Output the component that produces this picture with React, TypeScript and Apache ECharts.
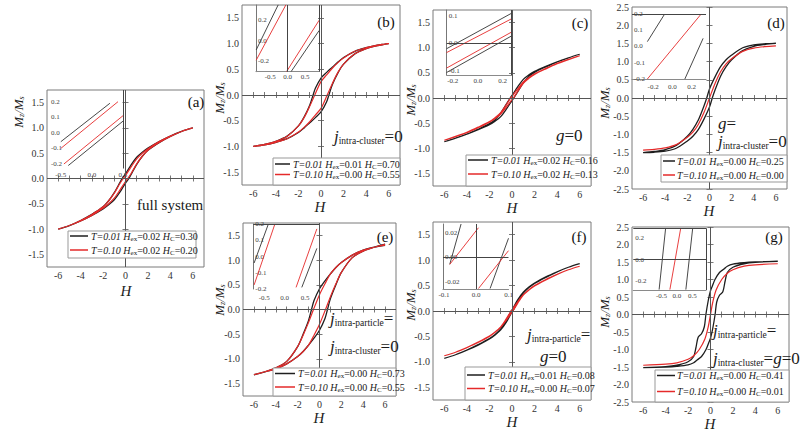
import React, { useEffect, useRef } from "react";
import * as echarts from "echarts";

type P = [number, number];

// ---------- data: descending-field branches (H from +6 to -6); ascending branch is its mirror ----------
const A_BLACK: P[] = [[6, 1.0], [5, 0.93], [4, 0.84], [3, 0.73], [2, 0.6], [1.5, 0.52], [1, 0.42], [0.5, 0.27], [0, 0.09], [-0.3, 0], [-0.5, -0.08], [-1, -0.28], [-1.5, -0.44], [-2, -0.56], [-3, -0.71], [-4, -0.83], [-5, -0.93], [-6, -1.0]];
const A_RED: P[] = [[6, 1.0], [5, 0.93], [4, 0.84], [3, 0.73], [2, 0.59], [1.5, 0.5], [1, 0.39], [0.5, 0.23], [0, 0.06], [-0.2, 0], [-0.5, -0.1], [-1, -0.29], [-1.5, -0.44], [-2, -0.56], [-3, -0.71], [-4, -0.83], [-5, -0.93], [-6, -1.0]];
const B_BLACK: P[] = [[6, 1.0], [5, 0.97], [4, 0.92], [3, 0.85], [2, 0.73], [1.5, 0.64], [1, 0.54], [0.5, 0.44], [0, 0.33], [-0.5, 0.13], [-0.7, 0], [-1, -0.2], [-1.5, -0.43], [-2, -0.6], [-3, -0.8], [-4, -0.9], [-5, -0.96], [-6, -1.0]];
const B_RED: P[] = [[6, 1.0], [5, 0.97], [4, 0.92], [3, 0.85], [2, 0.72], [1.5, 0.63], [1, 0.52], [0.5, 0.39], [0, 0.26], [-0.55, 0], [-1, -0.22], [-1.5, -0.44], [-2, -0.6], [-3, -0.8], [-4, -0.9], [-5, -0.96], [-6, -1.0]];
const C_BLACK: P[] = [[6, 0.87], [5, 0.8], [4, 0.72], [3, 0.63], [2, 0.53], [1.5, 0.46], [1, 0.37], [0.5, 0.22], [0, 0.05], [-0.16, 0], [-0.5, -0.12], [-1, -0.3], [-1.5, -0.43], [-2, -0.51], [-3, -0.62], [-4, -0.72], [-5, -0.8], [-6, -0.87]];
const C_RED: P[] = [[6, 0.84], [5, 0.77], [4, 0.69], [3, 0.59], [2, 0.48], [1.5, 0.41], [1, 0.32], [0.5, 0.18], [0, 0.03], [-0.13, 0], [-0.5, -0.13], [-1, -0.29], [-1.5, -0.39], [-2, -0.47], [-3, -0.58], [-4, -0.68], [-5, -0.76], [-6, -0.84]];
const D_BLACK: P[] = [[6, 1.5], [5, 1.49], [4, 1.46], [3, 1.38], [2, 1.18], [1.5, 1.05], [1, 0.86], [0.5, 0.58], [0, 0.25], [-0.25, 0], [-0.5, -0.22], [-1, -0.6], [-1.5, -0.86], [-2, -1.05], [-3, -1.3], [-4, -1.42], [-5, -1.47], [-6, -1.5]];
const D_RED: P[] = [[6, 1.43], [5, 1.41], [4, 1.37], [3, 1.28], [2, 1.08], [1.5, 0.94], [1, 0.72], [0.5, 0.4], [0, 0], [-0.5, -0.4], [-1, -0.72], [-1.5, -0.94], [-2, -1.08], [-3, -1.28], [-4, -1.37], [-5, -1.41], [-6, -1.43]];
const E_BLACK: P[] = [[6, 1.3], [5, 1.26], [4, 1.2], [3, 1.1], [2, 0.95], [1.5, 0.85], [1, 0.72], [0.5, 0.58], [0, 0.42], [-0.5, 0.18], [-0.73, 0], [-1, -0.22], [-1.5, -0.5], [-2, -0.75], [-3, -1.05], [-4, -1.18], [-5, -1.26], [-6, -1.32]];
const E_RED: P[] = [[6, 1.3], [5, 1.26], [4, 1.2], [3, 1.1], [2, 0.95], [1.5, 0.85], [1, 0.72], [0.5, 0.52], [0, 0.3], [-0.55, 0], [-1, -0.26], [-1.5, -0.52], [-2, -0.75], [-3, -1.05], [-4, -1.18], [-5, -1.26], [-6, -1.32]];
const F_BLACK: P[] = [[6, 0.93], [5, 0.86], [4, 0.77], [3, 0.67], [2, 0.55], [1.5, 0.47], [1, 0.37], [0.5, 0.22], [0, 0.02], [-0.08, 0], [-0.5, -0.18], [-1, -0.35], [-1.5, -0.46], [-2, -0.54], [-3, -0.66], [-4, -0.77], [-5, -0.86], [-6, -0.93]];
const F_RED: P[] = [[6, 0.88], [5, 0.81], [4, 0.72], [3, 0.62], [2, 0.5], [1.5, 0.42], [1, 0.32], [0.5, 0.18], [0, 0.02], [-0.07, 0], [-0.5, -0.15], [-1, -0.31], [-1.5, -0.41], [-2, -0.49], [-3, -0.61], [-4, -0.72], [-5, -0.81], [-6, -0.88]];
const G_BLACK: P[] = [[6, 1.52], [4, 1.5], [3, 1.48], [2, 1.44], [1.5, 1.38], [1.2, 1.3], [0.8, 1.2], [0.4, 1.0], [0.15, 0.8], [0, 0.68], [-0.2, 0.4], [-0.41, 0], [-0.55, -0.35], [-0.8, -0.55], [-1.1, -0.65], [-1.3, -0.95], [-1.5, -1.2], [-2, -1.35], [-3, -1.45], [-4, -1.49], [-6, -1.52]];
const G_RED: P[] = [[6, 1.45], [4, 1.42], [3, 1.38], [2, 1.28], [1.5, 1.18], [1, 1.0], [0.5, 0.7], [0.2, 0.35], [0, 0], [-0.2, -0.35], [-0.5, -0.7], [-1, -1.0], [-1.5, -1.18], [-2, -1.28], [-3, -1.38], [-4, -1.42], [-6, -1.45]];

// ---------- inset segments ----------
const A_IN_BLACK: P[][] = [[[-0.5, -0.057], [0.29, 0.19]], [[-0.38, -0.21], [0.5, 0.075]]];
const A_IN_RED: P[][] = [[[-0.5, -0.1], [0.42, 0.2]], [[-0.45, -0.2], [0.5, 0.11]]];
const B_IN_BLACK: P[][] = [[[-0.9, -0.09], [-0.27, 0.35]], [[0.1, -0.3], [0.9, 0.1]]];
const B_IN_RED: P[][] = [[[-0.9, -0.19], [-0.05, 0.35]], [[-0.03, -0.3], [0.9, 0.2]]];
const C_IN_BLACK: P[][] = [[[-0.25, -0.02], [0.27, 0.108]], [[-0.25, -0.106], [0.27, 0.026]]];
const C_IN_RED: P[][] = [[[-0.25, -0.034], [0.27, 0.088]], [[-0.25, -0.09], [0.27, 0.04]]];
const D_IN_BLACK: P[][] = [[[-0.26, 0.03], [-0.08, 0.2]], [[0.13, -0.2], [0.32, 0.05]]];
const D_IN_RED: P[][] = [[[-0.26, -0.2], [0.3, 0.2]]];
const E_IN_BLACK: P[][] = [[[-0.75, -0.04], [-0.4, 0.2]], [[0.42, -0.19], [0.79, 0.05]]];
const E_IN_RED: P[][] = [[[-0.75, -0.175], [-0.24, 0.2]], [[0.28, -0.19], [0.79, 0.17]]];
const F_IN_BLACK: P[][] = [[[-0.082, -0.0055], [-0.047, 0.027]], [[0.043, -0.025], [0.1, 0.0155]]];
const F_IN_RED: P[][] = [[[-0.082, -0.0055], [0.007, 0.024]], [[0.007, -0.025], [0.1, 0.0055]]];
const G_IN_BLACK: P[][] = [[[-0.58, -0.28], [-0.37, 0.29]], [[0.29, -0.28], [0.51, 0.29]]];
const G_IN_RED: P[][] = [[[-0.23, -0.28], [0.12, 0.29]]];

// ---------- ticks ----------
const X_TICKS = [-6, -4, -2, 0, 2, 4, 6];
const X_MINOR = [-6, -5, -4, -3, -2, -1, 0, 1, 2, 3, 4, 5, 6];
const Y_TICKS_S = [-1.5, -1, -0.5, 0, 0.5, 1, 1.5];
const Y_TICKS_L = [-2.5, -2, -1.5, -1, -0.5, 0, 0.5, 1, 1.5, 2, 2.5];
const IN_Y_A = [-0.2, -0.1, 0, 0.1, 0.2];
const IN_Y_B = [-0.2, 0, 0.2];
const IN_Y_C = [-0.1, 0, 0.1];
const IN_Y_F = [-0.02, 0, 0.02];
const IN_X_HALF = [-0.5, 0, 0.5];
const IN_X_POINT2 = [-0.2, 0, 0.2];
const IN_X_POINT1 = [-0.1, 0, 0.1];

// ---------- legend values: [Hex, Hc] per temperature ----------
const T_VALUES = ["0.01", "0.10"];
const A_LEG = [["0.02", "0.30"], ["0.02", "0.20"]];
const B_LEG = [["0.01", "0.70"], ["0.00", "0.55"]];
const C_LEG = [["0.02", "0.16"], ["0.02", "0.13"]];
const D_LEG = [["0.00", "0.25"], ["0.00", "0.00"]];
const E_LEG = [["0.00", "0.73"], ["0.00", "0.55"]];
const F_LEG = [["0.01", "0.08"], ["0.00", "0.07"]];
const G_LEG = [["0.00", "0.41"], ["0.00", "0.01"]];
const PANEL_LABELS = ["(a)", "(b)", "(c)", "(d)", "(e)", "(f)", "(g)"];

const SERIF = '"Liberation Serif", "Times New Roman", "DejaVu Serif", serif';
const BLACK = "#1e1e1e";
const RED = "#e52a2a";

const loop = (up: P[]): P[] => {
  const lower = up.map(([h, m]) => [-h, -m] as P);
  return [...up, ...lower.slice(1)];
};

interface Panel {
  main: number[];
  yr: number;
  yTicks: number[];
  black: P[];
  red: P[];
  inset: number[];
  inBlack: P[][];
  inRed: P[][];
  inY: number[];
  inX: number[];
  inYDigits: number;
  inLeft: boolean;
  inBottom: boolean;
  inVx: number[];
  inHy: number[];
  inXMargin: number;
  leg: string[][];
  legBox: number[];
  legRows: number[];
  legLine: number[];
  legText: number;
  label: number[];
  yName: number[];
  xName: number[];
}

const PANELS: Panel[] = [
  {
    main: [47, 90, 204, 267], yr: 1.75, yTicks: Y_TICKS_S, black: A_BLACK, red: A_RED,
    inset: [49, 90, 123.3, 168.5, -0.69, 0.505, -0.229, 0.275], inBlack: A_IN_BLACK, inRed: A_IN_RED,
    inY: IN_Y_A, inX: IN_X_HALF, inYDigits: 1, inLeft: false, inBottom: false, inVx: [0.5], inHy: [], inXMargin: 3,
    leg: A_LEG, legBox: [68, 231, 196, 258], legRows: [236, 250], legLine: [70, 88], legText: 91,
    label: [196, 102], yName: [18, 112], xName: [126, 291],
  },
  {
    main: [242, 5, 400, 185], yr: 1.75, yTicks: Y_TICKS_S, black: B_BLACK, red: B_RED,
    inset: [256, 5, 319.3, 71.7, -0.905, 0.903, -0.302, 0.348], inBlack: B_IN_BLACK, inRed: B_IN_RED,
    inY: IN_Y_B, inX: IN_X_HALF, inYDigits: 1, inLeft: true, inBottom: true, inVx: [0, 0.9], inHy: [], inXMargin: 2,
    leg: B_LEG, legBox: [273, 158, 400, 185], legRows: [164, 174.5], legLine: [275, 290], legText: 293,
    label: [386, 22], yName: [219, 98], xName: [320, 207],
  },
  {
    main: [433, 10, 591, 186], yr: 1.75, yTicks: Y_TICKS_S, black: C_BLACK, red: C_RED,
    inset: [446.7, 10, 512.3, 75, -0.249, 0.277, -0.115, 0.12], inBlack: C_IN_BLACK, inRed: C_IN_RED,
    inY: IN_Y_C, inX: IN_X_POINT2, inYDigits: 1, inLeft: true, inBottom: true, inVx: [0.27], inHy: [0], inXMargin: 2,
    leg: C_LEG, legBox: [466, 155, 591, 186], legRows: [160, 174], legLine: [468, 488], legText: 491,
    label: [580, 23], yName: [410, 100], xName: [512, 208],
  },
  {
    main: [632, 7, 787, 189], yr: 2.5, yTicks: Y_TICKS_L, black: D_BLACK, red: D_RED,
    inset: [632, 7, 706, 79, -0.42, 0.35, -0.2, 0.243], inBlack: D_IN_BLACK, inRed: D_IN_RED,
    inY: IN_Y_A, inX: IN_X_POINT2, inYDigits: 1, inLeft: false, inBottom: true, inVx: [], inHy: [0.2], inXMargin: 4,
    leg: D_LEG, legBox: [661, 155, 787, 182], legRows: [161, 175], legLine: [663, 675], legText: 677,
    label: [776, 23], yName: [604, 103], xName: [709, 211],
  },
  {
    main: [243, 223, 396, 396], yr: 1.75, yTicks: Y_TICKS_S, black: E_BLACK, red: E_RED,
    inset: [253.3, 224, 319.3, 289, -0.77, 0.85, -0.2, 0.2], inBlack: E_IN_BLACK, inRed: E_IN_RED,
    inY: IN_Y_A, inX: IN_X_HALF, inYDigits: 1, inLeft: true, inBottom: false, inVx: [], inHy: [0.2], inXMargin: 5,
    leg: E_LEG, legBox: [273, 368, 396, 396], legRows: [373.5, 387], legLine: [275, 295], legText: 298,
    label: [385, 237], yName: [219, 300], xName: [319, 418],
  },
  {
    main: [433, 222, 591, 400], yr: 1.75, yTicks: Y_TICKS_S, black: F_BLACK, red: F_RED,
    inset: [443, 224, 508.5, 289, -0.103, 0.1, -0.0254, 0.027], inBlack: F_IN_BLACK, inRed: F_IN_RED,
    inY: IN_Y_F, inX: IN_X_POINT1, inYDigits: 2, inLeft: true, inBottom: true, inVx: [0], inHy: [0], inXMargin: 2,
    leg: F_LEG, legBox: [465, 367, 591, 400], legRows: [375, 388.5], legLine: [467, 485], legText: 488,
    label: [579, 237], yName: [410, 305], xName: [512, 422],
  },
  {
    main: [632, 227, 789, 402], yr: 2.5, yTicks: Y_TICKS_L, black: G_BLACK, red: G_RED,
    inset: [633.3, 228.3, 706, 290, -1.42, 0.945, -0.284, 0.294], inBlack: G_IN_BLACK, inRed: G_IN_RED,
    inY: IN_Y_B, inX: IN_X_HALF, inYDigits: 1, inLeft: false, inBottom: true, inVx: [0.94], inHy: [0.29, 0], inXMargin: 2,
    leg: G_LEG, legBox: [655, 370, 789, 402], legRows: [375.5, 391.5], legLine: [657, 675], legText: 677,
    label: [774, 237], yName: [604, 312], xName: [710, 424],
  },
];

const ANNOTATIONS: { x: number; y: number; text: string }[] = [
  { x: 137, y: 205, text: "{r|full system}" },
  { x: 334, y: 136, text: "{j|j}{sub|intra-cluster}{n|=0}" },
  { x: 556, y: 135, text: "{j|g}{n|=0}" },
  { x: 718, y: 123, text: "{j|g}{n|=}" },
  { x: 718, y: 141, text: "{j|j}{sub|intra-cluster}{n|=0}" },
  { x: 330, y: 318, text: "{j|j}{sub|intra-particle}{n|=}" },
  { x: 330, y: 346, text: "{j|j}{sub|intra-cluster}{n|=0}" },
  { x: 527, y: 334, text: "{j|j}{sub|intra-particle}{n|=}" },
  { x: 540, y: 356, text: "{j|g}{n|=0}" },
  { x: 713, y: 330, text: "{j|j}{sub|intra-particle}{n|=}" },
  { x: 713, y: 358, text: "{j|j}{sub|intra-cluster}{n|=}{j|g}{n|=0}" },
];

const richStyle = (size: number, italic: boolean, pad = 0) => ({
  fontFamily: SERIF,
  fontSize: size,
  fontStyle: italic ? "italic" : "normal",
  fill: "#1a1a1a",
  color: "#1a1a1a",
  padding: pad ? [pad, 0, 0, 0] : 0,
});

const ANN_RICH = {
  j: richStyle(17, true),
  n: richStyle(17, false),
  r: richStyle(15, false),
  sub: richStyle(9.5, false, 9),
};
const LEG_RICH = {
  it: richStyle(10, true),
  n: richStyle(10, false),
  sub: richStyle(7, false, 5),
};
const NAME_RICH = {
  i: richStyle(13, true),
  s: richStyle(8, true, 6),
};

function buildOption() {
  const grid: any[] = [];
  const xAxis: any[] = [];
  const yAxis: any[] = [];
  const series: any[] = [];
  const graphic: any[] = [];
  const tickColor = "#777";

  PANELS.forEach((p, i) => {
    const [l, t, r, b] = p.main;
    const gi = grid.length;
    grid.push({ left: l, top: t, width: r - l, height: b - t, show: true, borderColor: "#7a7a7a", borderWidth: 1, backgroundColor: "transparent", containLabel: false, outerBoundsMode: "none" });
    const xi = xAxis.length;
    xAxis.push({
      type: "value", gridIndex: gi, min: -7, max: 7, position: "bottom",
      axisLine: { show: false },
      axisTick: { show: true, inside: true, length: 3, customValues: X_MINOR, lineStyle: { color: tickColor } },
      axisLabel: { show: true, customValues: X_TICKS, formatter: (v: number) => String(v), fontFamily: SERIF, fontSize: 10, color: "#333", margin: 3 },
      splitLine: { show: false },
    });
    xAxis.push({
      type: "value", gridIndex: gi, min: -7, max: 7, position: "top",
      axisLine: { show: false },
      axisTick: { show: true, inside: true, length: 3, customValues: X_MINOR, lineStyle: { color: tickColor } },
      axisLabel: { show: false }, splitLine: { show: false },
    });
    const yi = yAxis.length;
    yAxis.push({
      type: "value", gridIndex: gi, min: -p.yr, max: p.yr, position: "left",
      axisLine: { show: false },
      axisTick: { show: true, inside: true, length: 3, customValues: p.yTicks, lineStyle: { color: tickColor } },
      axisLabel: { show: true, customValues: p.yTicks, formatter: (v: number) => v.toFixed(1), fontFamily: SERIF, fontSize: 10, color: "#333", margin: 3 },
      splitLine: { show: false },
    });
    yAxis.push({
      type: "value", gridIndex: gi, min: -p.yr, max: p.yr, position: "right",
      axisLine: { show: false },
      axisTick: { show: true, inside: true, length: 3, customValues: p.yTicks, lineStyle: { color: tickColor } },
      axisLabel: { show: false }, splitLine: { show: false },
    });
    series.push({
      type: "line", name: `p${i}black`, xAxisIndex: xi, yAxisIndex: yi, data: loop(p.black),
      showSymbol: false, symbol: "none", smooth: 0.3, silent: true,
      lineStyle: { color: BLACK, width: 1.3 },
      markLine: {
        silent: true, symbol: ["none", "none"], label: { show: false },
        lineStyle: { color: "#555", width: 1, type: "solid" },
        data: [{ xAxis: 0 }, { yAxis: 0 }],
      },
    });
    series.push({
      type: "line", name: `p${i}red`, xAxisIndex: xi, yAxisIndex: yi, data: loop(p.red),
      showSymbol: false, symbol: "none", smooth: 0.3, silent: true,
      lineStyle: { color: RED, width: 1.2 },
    });

    // inset
    const [il, it, ir, ib, xmin, xmax, ymin, ymax] = p.inset;
    const ig = grid.length;
    grid.push({ left: il, top: it, width: ir - il, height: ib - it, show: false, containLabel: false, outerBoundsMode: "none" });
    const ixi = xAxis.length;
    xAxis.push({
      type: "value", gridIndex: ig, min: xmin, max: xmax, position: "bottom",
      axisLine: { show: p.inBottom, onZero: false, lineStyle: { color: "#8a8a8a", width: 1.2 } },
      axisTick: { show: false },
      axisLabel: { show: true, customValues: p.inX, formatter: (v: number) => v.toFixed(1), fontFamily: SERIF, fontSize: 7, color: "#444", margin: p.inXMargin },
      splitLine: { show: false },
    });
    const iyi = yAxis.length;
    yAxis.push({
      type: "value", gridIndex: ig, min: ymin, max: ymax, position: "left",
      axisLine: { show: p.inLeft, onZero: false, lineStyle: { color: "#777", width: 1 } },
      axisTick: { show: false },
      axisLabel: { show: true, inside: true, customValues: p.inY, formatter: (v: number) => v.toFixed(p.inYDigits), fontFamily: SERIF, fontSize: 7, color: "#444", margin: 2 },
      splitLine: { show: false },
    });
    const frameLines = [...p.inVx.map((v) => ({ xAxis: v })), ...p.inHy.map((v) => ({ yAxis: v }))];
    p.inBlack.forEach((seg, k) => {
      series.push({
        type: "line", xAxisIndex: ixi, yAxisIndex: iyi, data: seg, showSymbol: false, symbol: "none", silent: true,
        lineStyle: { color: "#333", width: 0.9 },
        ...(k === 0 && frameLines.length
          ? { markLine: { silent: true, symbol: ["none", "none"], label: { show: false }, lineStyle: { color: "#444", width: 1, type: "solid" }, data: frameLines } }
          : {}),
      });
    });
    p.inRed.forEach((seg) => {
      series.push({
        type: "line", xAxisIndex: ixi, yAxisIndex: iyi, data: seg, showSymbol: false, symbol: "none", silent: true,
        lineStyle: { color: RED, width: 0.9 },
      });
    });

    // legend box
    const [ll, lt, lr, lb] = p.legBox;
    graphic.push({ type: "rect", z: 100, shape: { x: ll, y: lt, width: lr - ll, height: lb - lt }, style: { fill: "#fff", stroke: "#999", lineWidth: 1 } });
    [BLACK, RED].forEach((c, k) => {
      const y = p.legRows[k];
      graphic.push({ type: "line", z: 101, shape: { x1: p.legLine[0], y1: y, x2: p.legLine[1], y2: y }, style: { stroke: c, lineWidth: 1.5 } });
      const [hex, hc] = p.leg[k];
      graphic.push({
        type: "text", z: 101, x: p.legText, y,
        style: {
          text: `{it|T=${T_VALUES[k]} H}{sub|ex}{n|=${hex} }{it|H}{sub|C}{n|=${hc}}`,
          rich: LEG_RICH, verticalAlign: "middle", align: "left",
        },
      });
    });

    graphic.push({
      type: "text", z: 102, x: p.label[0], y: p.label[1],
      style: { text: PANEL_LABELS[i], fontFamily: SERIF, fontSize: 15, fill: "#111", align: "center", verticalAlign: "middle" },
    });
    graphic.push({
      type: "text", z: 102, x: p.yName[0], y: p.yName[1], rotation: Math.PI / 2,
      style: { text: "{i|M}{s|z}{i|/M}{s|s}", rich: NAME_RICH, align: "center", verticalAlign: "middle" },
    });
    graphic.push({
      type: "text", z: 102, x: p.xName[0], y: p.xName[1],
      style: { text: "H", fontFamily: SERIF, fontStyle: "italic", fontSize: 15, fill: "#222", align: "center", verticalAlign: "middle" },
    });
  });

  ANNOTATIONS.forEach((a) => {
    graphic.push({
      type: "text", z: 102, x: a.x, y: a.y,
      style: { text: a.text, rich: ANN_RICH, align: "left", verticalAlign: "middle" },
    });
  });

  return {
    animation: false,
    backgroundColor: "#fff",
    grid, xAxis, yAxis, series, graphic,
  };
}

export default function App() {
  const ref = useRef<HTMLDivElement>(null);
  useEffect(() => {
    document.body.style.margin = "0";
    if (!ref.current) return;
    const chart = echarts.init(ref.current, undefined, { renderer: "svg" });
    chart.setOption(buildOption() as any);
    return () => chart.dispose();
  }, []);
  return <div ref={ref} style={{ width: 810, height: 444 }} />;
}
